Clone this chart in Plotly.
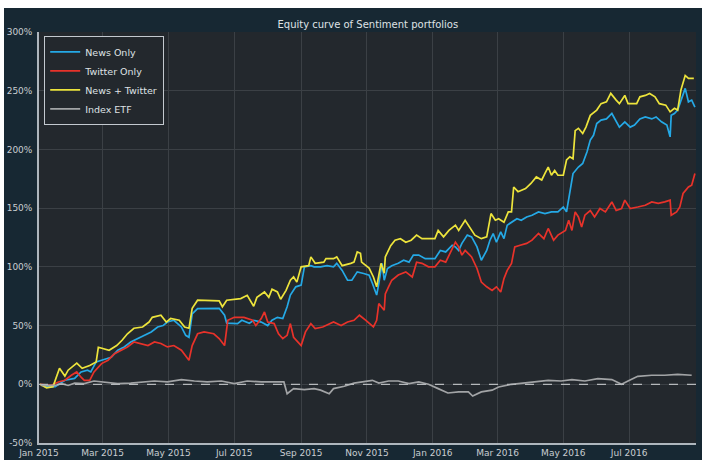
import pandas as pd
import plotly.graph_objects as go

start = pd.Timestamp('2015-01-01')

# days since 2015-01-01 and cumulative return (%)
news_days = [5, 15, 24, 33, 39, 45, 48, 53, 58, 67, 73, 79, 85, 92, 98, 104, 110, 115, 119, 125,
             132, 136, 139, 142, 147, 158, 167, 172, 174, 184, 188, 195, 199, 206, 212, 216, 221, 226, 230, 233,
             238, 243, 246, 252, 255, 261, 267, 273, 276, 281, 286, 290, 295, 301, 306, 309, 313, 315, 318, 320,
             323, 327, 333, 338, 343, 347, 352, 358, 367, 372, 377, 383, 386, 389, 392, 397, 401, 406, 410, 415,
             418, 421, 424, 428, 431, 434, 438, 443, 447, 452, 457, 463, 469, 475, 481, 486, 489, 492, 495, 500,
             504, 508, 511, 514, 517, 521, 526, 531, 535, 538, 543, 548, 552, 557, 562, 568, 572, 577, 582, 585,
             586, 589, 592, 595, 599, 602, 605, 608]
news_vals = [-2, -2, 3.4, 5, 10.5, 12, 10.5, 19, 20.5, 23, 29, 31.8, 36, 39, 41.7, 44.6, 48.8, 50, 53, 54.5,
             48.8, 41.7, 40, 60, 64.5, 64.7, 64.7, 58.8, 52, 51.7, 54.5, 52, 54.5, 53, 50, 54.5, 57, 56, 66, 76,
             83, 84.4, 100, 101, 100, 100, 101, 100, 103, 97, 88.6, 88.6, 95.7, 94.3, 93, 86, 76, 86, 103, 88.6,
             98.6, 101, 103, 105.6, 104, 110, 110, 107, 107, 114, 112.7, 118.4, 117, 114, 120, 127, 125.5, 117, 105.6, 114,
             122.7, 128.4, 121, 129.8, 124, 135.5, 138, 141, 139.7, 142.5, 144, 146.8, 145.4, 146.8, 146.8, 151, 146.8, 162.5, 179.5, 185,
             188, 198, 208, 212, 222, 225, 226, 230.6, 223.5, 219, 223.5, 219, 220.7, 226, 227.7, 226, 227.7, 223.5, 220.7, 210.7,
             229, 230.6, 233.5, 242, 252, 240.5, 242, 236]

twitter_days = [1, 11, 18, 24, 30, 35, 39, 42, 47, 51, 58, 64, 70, 76, 82, 88, 95, 101, 107, 113,
                119, 125, 132, 136, 139, 142, 147, 153, 162, 167, 172, 175, 181, 190, 198, 201, 206, 209, 212, 218,
                222, 226, 230, 233, 236, 243, 247, 252, 256, 263, 269, 273, 280, 286, 292, 297, 303, 310, 313, 315,
                320, 321, 324, 327, 333, 340, 346, 350, 355, 361, 367, 372, 377, 381, 386, 389, 392, 395, 401, 406,
                410, 415, 420, 424, 428, 431, 434, 438, 441, 446, 452, 457, 463, 468, 472, 477, 481, 488, 491, 494,
                497, 500, 503, 506, 511, 515, 520, 525, 531, 535, 540, 543, 548, 555, 562, 568, 574, 580, 585, 586,
                591, 594, 597, 602, 605, 608]
twitter_vals = [0, -1, 2, 3.4, 7.7, 10.5, 6, 3.4, 3.4, 10.5, 17.6, 20.5, 26, 29, 31.8, 36, 34.7, 33, 36, 34.7,
                31.8, 33, 29, 24.7, 20.5, 33, 43, 44.6, 43, 39, 33, 54.5, 57, 57, 54.5, 50, 56, 61.6, 53, 51.7,
                43, 39, 41.7, 51.7, 40, 33, 44.6, 51.7, 47.5, 48.8, 51.7, 53, 50, 53, 54.5, 58.8, 54.5, 48.8, 54.5, 68.7,
                63, 77, 83, 88.6, 93, 95.7, 91.4, 104, 103, 100, 100, 105.6, 104, 111, 121, 117, 110, 114, 108.5, 98.6,
                87, 83, 80, 83, 78.6, 90, 97, 103, 117, 118.4, 120, 122.7, 128.4, 124, 132.7, 122.7, 127, 131, 139.7, 131,
                146.8, 142.5, 134, 144, 148, 142.5, 149.7, 146.8, 155.3, 148, 149.7, 156.8, 149.7, 151, 152.5, 155.3, 154, 155.3, 156.8, 144,
                146.8, 151, 162.5, 168, 169.5, 179.5]

combo_days = [1, 7, 13, 19, 24, 27, 35, 40, 47, 53, 55, 65, 72, 77, 82, 88, 96, 102, 105, 113,
              118, 122, 130, 135, 139, 142, 147, 158, 167, 170, 174, 187, 193, 199, 202, 209, 213, 216, 221, 224,
              229, 233, 236, 239, 243, 250, 252, 256, 264, 266, 273, 276, 281, 289, 292, 295, 298, 299, 306, 310,
              313, 317, 320, 321, 326, 330, 335, 340, 345, 350, 355, 367, 370, 375, 380, 386, 389, 395, 400, 404,
              410, 415, 419, 423, 426, 431, 435, 438, 440, 444, 451, 456, 461, 466, 469, 472, 475, 478, 481, 486,
              489, 492, 495, 497, 500, 504, 507, 511, 517, 521, 526, 530, 535, 538, 543, 546, 554, 557, 562, 566,
              571, 575, 581, 585, 589, 592, 595, 599, 602, 607]
combo_vals = [0, -3, -2, 13.6, 7, 12, 18, 13.6, 16, 19, 31.5, 29, 33, 37.5, 43, 47.7, 48.8, 53, 57, 58.8,
              53, 56, 54.5, 48.8, 47.7, 64.7, 71.6, 71, 71, 66, 71.6, 73, 75.8, 66.5, 74, 78.6, 74, 81, 78.6, 72.4,
              80, 88.6, 91.4, 87, 100, 101, 108.5, 103, 104, 107, 107, 108.5, 101, 103, 104, 112.7, 111.6, 104, 99, 91.4,
              83, 103, 94.6, 108.5, 118, 122.7, 124, 121, 122.7, 127, 124, 124, 131, 125.5, 131, 135.5, 131, 139.7, 132.7, 127,
              124, 125.5, 145.4, 139.7, 141, 138, 146.8, 146.8, 168, 164, 166.7, 171, 176.6, 174, 179.7, 185, 178, 182, 178, 178,
              191, 193.7, 192, 216, 218, 213.6, 219, 229, 233.5, 239, 240.5, 247.7, 242, 239, 246, 239, 239, 244.8, 246, 247.7,
              244.8, 239, 237.7, 232, 235, 233.5, 250.5, 263, 260.5, 260.5]

etf_days = [2, 15, 21, 27, 33, 42, 51, 61, 73, 85, 98, 107, 119, 132, 144, 156, 169, 181, 193, 206,
            218, 227, 230, 236, 246, 255, 261, 269, 273, 283, 292, 300, 309, 315, 324, 333, 343, 352, 361, 370,
            379, 389, 398, 402, 410, 420, 426, 438, 450, 460, 472, 484, 494, 506, 518, 531, 540, 546, 555, 568,
            580, 592, 605]
etf_vals = [-1, -1, 0.6, -1, 1, 0.6, 2.8, 2, 0.6, 1, 2, 2.8, 2, 4, 2.8, 2, 2.8, 0.6, 2.8, 2,
            2, 2, -8, -3.7, -4.5, -3.7, -5, -8, -3.7, -1.7, 1, 2, 3.4, 1, 2.8, 2.8, 0.6, 2, 0, -3.7,
            -7.4, -6.5, -6.5, -10, -6.5, -5, -2.3, 0, 1, 2, 3.4, 2.8, 4, 2.8, 4.8, 4, 0, 2.8, 6.8, 7.7,
            7.7, 8.5, 7.7]

series = [
    ('News Only', news_days, news_vals, '#25a9e6'),
    ('Twitter Only', twitter_days, twitter_vals, '#e8322a'),
    ('News + Twitter', combo_days, combo_vals, '#ede43c'),
    ('Index ETF', etf_days, etf_vals, '#a2a4a6'),
]

y_ticks = [-50, 0, 50, 100, 150, 200, 250, 300]
y_labels = ['-50%', '0%', '50%', '100%', '150%', '200%', '250%', '300%']
x_end = start + pd.Timedelta(days=609)

fig = go.Figure()
for name, days, vals, color in series:
    dates = start + pd.to_timedelta(days, unit='D')
    fig.add_trace(go.Scatter(x=dates, y=vals, mode='lines', name=name,
                             line=dict(color=color, width=1.7)))

# dashed zero line
fig.add_hline(y=0, line=dict(color='#b5b8bb', width=1.2, dash='dash'))

# white frame strips of the original screenshot
fig.add_shape(type='rect', xref='paper', yref='paper', x0=-1, x1=2, y0=(443 - 8) / 411, y1=2,
              fillcolor='white', line_width=0, layer='above')
fig.add_shape(type='rect', xref='paper', yref='paper', x0=-1, x1=(4 - 39) / 657, y0=-1, y1=2,
              fillcolor='white', line_width=0, layer='above')

fig.update_layout(
    width=702, height=460,
    margin=dict(l=39, r=6, t=32, b=17, autoexpand=False),
    paper_bgcolor='#172833',
    plot_bgcolor='#23282d',
    font=dict(family='DejaVu Sans', color='#c9cdd1', size=9),
    title=dict(text='Equity curve of Sentiment portfolios', x=0.524, xanchor='center',
               y=1 - 24 / 460, yanchor='middle', font=dict(size=10, color='#dfe2e5')),
    showlegend=True,
    legend=dict(x=0.0076, y=0.99, xanchor='left', yanchor='top',
                bgcolor='#23282d', bordercolor='#c3c9cf', borderwidth=1.2,
                font=dict(size=9.5, color='#dfe2e5'), itemwidth=30,
                tracegroupgap=0),
)
fig.update_xaxes(range=[start, x_end], dtick='M2', tick0='2015-01-01', tickformat='%b %Y',
                 showgrid=True, gridcolor='#3b4045', gridwidth=1, zeroline=False,
                 showline=True, linecolor='#aeb6bd', linewidth=1.6, ticks='', ticklen=0,
                 ticklabelstandoff=0)
fig.update_yaxes(range=[-50, 300], tickvals=y_ticks, ticktext=y_labels,
                 showgrid=True, gridcolor='#3b4045', gridwidth=1, zeroline=False,
                 showline=True, linecolor='#aeb6bd', linewidth=1.6, ticks='', ticklen=0,
                 ticklabelstandoff=3)

# drop the browser's default page margin so the figure sits at the window origin
fig.write_html('out.html', config={'displayModeBar': False},
               post_script="document.body.style.margin='0';")
